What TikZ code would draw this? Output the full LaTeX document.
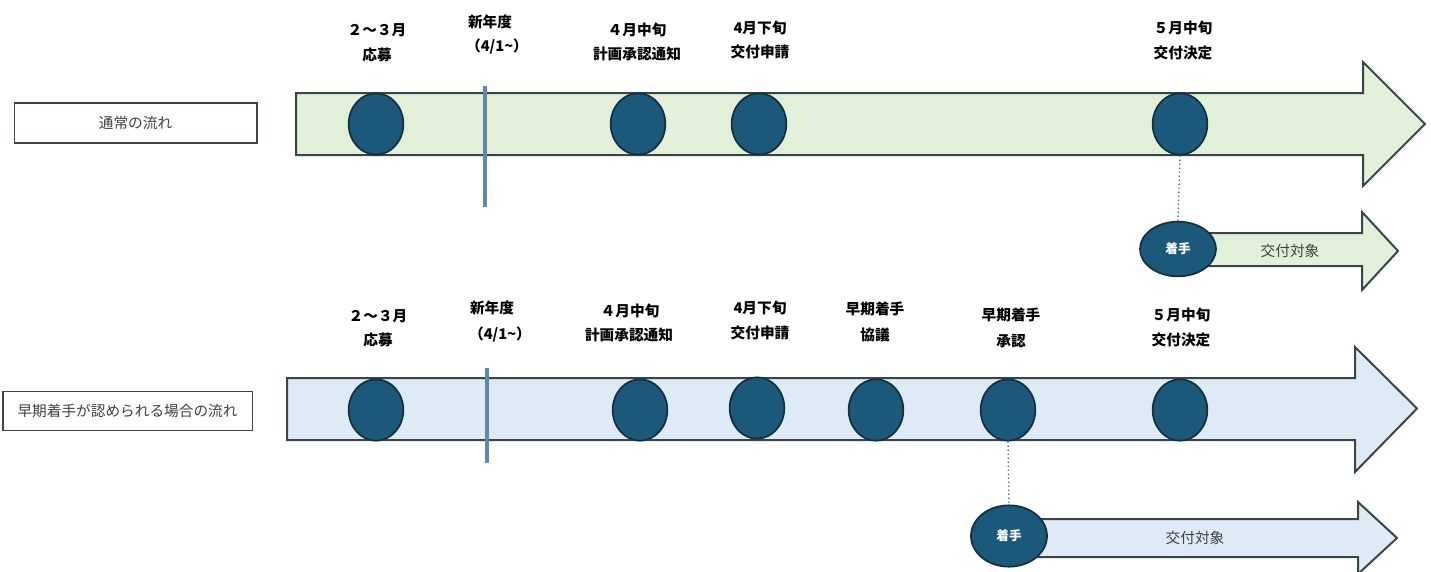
\documentclass[tikz,border=0pt]{standalone}
\usepackage{fontspec}
\setmainfont{Noto Sans CJK JP}
\usetikzlibrary{shapes.geometric}
\definecolor{gfill}{HTML}{E2F0D9}
\definecolor{bfill}{HTML}{DEEBF7}
\definecolor{dotfill}{HTML}{1C587A}
\definecolor{dotline}{HTML}{12303F}
\definecolor{arrline}{HTML}{3A4646}
\definecolor{divcol}{HTML}{5F89A6}
\definecolor{txtgray}{HTML}{404040}
\tikzset{
  bigarrow/.style={draw=arrline, line width=1.5pt, line join=miter},
  dot/.style={ellipse, draw=dotline, line width=1.3pt, fill=dotfill, minimum width=41pt, minimum height=46pt, inner sep=0pt},
  startdot/.style={ellipse, draw=dotline, line width=1.3pt, fill=dotfill, inner sep=0pt, text=white, font=\fontsize{9.5}{11}\selectfont\bfseries},
  lbl/.style={font=\fontsize{11}{13}\selectfont\bfseries, text=black, inner sep=0pt},
  boxlbl/.style={draw=arrline, line width=1pt, fill=white, font=\fontsize{11}{13}\selectfont, text=txtgray, inner sep=0pt},
  divider/.style={draw=divcol, line width=3.4pt},
  link/.style={draw=divcol!80!black, line width=1pt, dotted},
  target/.style={font=\fontsize{11}{13}\selectfont, text=txtgray, inner sep=0pt}
}
\begin{document}
\begin{tikzpicture}[x=0.75pt,y=-0.75pt]
\useasboundingbox (0,0) rectangle (1431,571);
\fill[white] (0,0) rectangle (1431,571);

% ---------- top row (normal flow) ----------
\node[boxlbl, minimum width=182pt, minimum height=30pt] (boxA) at (135.5,123) {通常の流れ};
\path[bigarrow, fill=gfill] (296,93) -- (1363,93) -- (1363,62) -- (1425,124) -- (1363,186) -- (1363,155) -- (296,155) -- cycle;
\coordinate (divAt) at (485,86);
\coordinate (divAb) at (485,207);
\draw[divider] (divAt) -- (divAb);

\node[dot] (a1) at (376,124) {};
\node[dot] (a2) at (638,124) {};
\node[dot] (a3) at (759,124) {};
\node[dot] (a4) at (1180,124) {};

\node[lbl] (la1a) at (377,30) {２～３月};
\node[lbl] (la1b) at (377,55) {応募};
\node[lbl] (la0a) at (490,22) {新年度};
\node[lbl] (la0b) at (497,47) {（4/1\textasciitilde）};
\node[lbl] (la2a) at (637,30) {４月中旬};
\node[lbl] (la2b) at (637,54) {計画承認通知};
\node[lbl] (la3a) at (760,28) {4月下旬};
\node[lbl] (la3b) at (760,52) {交付申請};
\node[lbl] (la4a) at (1183,28) {５月中旬};
\node[lbl] (la4b) at (1183,53) {交付決定};

\path[bigarrow, fill=gfill] (1178,233) -- (1362,233) -- (1362,212) -- (1398,251) -- (1362,290) -- (1362,266) -- (1178,266) -- cycle;
\node[startdot, minimum width=57pt, minimum height=41pt] (sa) at (1178,249) {着手};
\draw[link] (a4.south) -- (sa.north);
\node[target] (ta) at (1290,251) {交付対象};

% ---------- bottom row (early start) ----------
\node[boxlbl, minimum width=187pt, minimum height=29pt] (boxB) at (127.5,411) {早期着手が認められる場合の流れ};
\path[bigarrow, fill=bfill] (287,378) -- (1355,378) -- (1355,347) -- (1417,408.5) -- (1355,472) -- (1355,440) -- (287,440) -- cycle;
\coordinate (divBt) at (487,368);
\coordinate (divBb) at (487,463);
\draw[divider] (divBt) -- (divBb);

\node[dot] (b1) at (376,410) {};
\node[dot] (b2) at (640,410) {};
\node[dot] (b3) at (757,408) {};
\node[dot] (b4) at (876,410) {};
\node[dot] (b5) at (1008,410) {};
\node[dot] (b6) at (1180,410) {};

\node[lbl] (lb1a) at (378,316) {２～３月};
\node[lbl] (lb1b) at (378,340) {応募};
\node[lbl] (lb0a) at (492,308) {新年度};
\node[lbl] (lb0b) at (500,335) {（4/1\textasciitilde）};
\node[lbl] (lb2a) at (630,311) {４月中旬};
\node[lbl] (lb2b) at (629,335) {計画承認通知};
\node[lbl] (lb3a) at (760,308) {4月下旬};
\node[lbl] (lb3b) at (760,333) {交付申請};
\node[lbl] (lb4a) at (875,309) {早期着手};
\node[lbl] (lb4b) at (875,335) {協議};
\node[lbl] (lb5a) at (1011,315) {早期着手};
\node[lbl] (lb5b) at (1011,341) {承認};
\node[lbl] (lb6a) at (1181,315) {５月中旬};
\node[lbl] (lb6b) at (1181,340) {交付決定};

\path[bigarrow, fill=bfill] (1009,519) -- (1358,519) -- (1358,502) -- (1397,538) -- (1358,574) -- (1358,557) -- (1009,557) -- cycle;
\node[startdot, minimum width=57pt, minimum height=46pt] (sb) at (1009,536) {着手};
\draw[link] (b5.south) -- (sb.north);
\node[target] (tb) at (1195,538) {交付対象};
\end{tikzpicture}
\end{document}
